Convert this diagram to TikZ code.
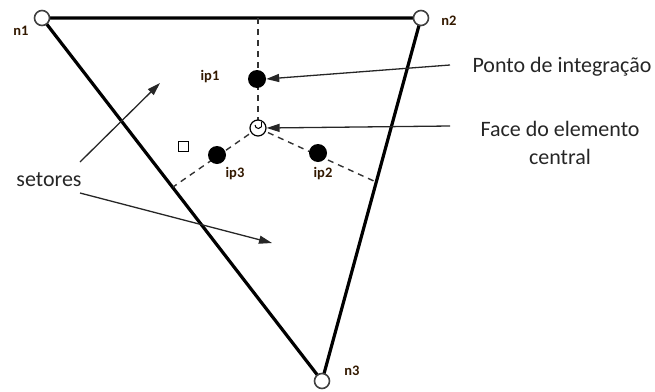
\documentclass[tikz,border=0pt]{standalone}
\usepackage{fontspec}
\setmainfont{Carlito}
\usetikzlibrary{arrows.meta,calc,intersections}
\begin{document}
\begin{tikzpicture}[x=1pt,y=-1pt,
  edge/.style={line width=3.2pt},
  dashl/.style={dash pattern=on 6pt off 5pt,line width=1.4pt,black!80},
  opennode/.style={circle,draw,line width=1.6pt,draw=black!75,fill=white,minimum size=15pt,inner sep=0pt},
  ipnode/.style={circle,fill=black,minimum size=18pt,inner sep=0pt},
  nlabel/.style={font=\bfseries\fontsize{14.5}{16}\selectfont,text=black!80!orange},
  txt/.style={font=\fontsize{22}{28}\selectfont,align=center,text=black!85},
  ptr/.style={line width=1.3pt,draw=black!85,-{Triangle[length=13pt,width=8pt]}}]
\useasboundingbox (0,0) rectangle (655,391);
% triangle
\coordinate (p1) at (42,18);
\coordinate (p2) at (421,18);
\coordinate (p3) at (322,381);
\draw[edge] (p1) -- (p2) -- (p3) -- cycle;
\node[opennode] (n1) at (p1) {};
\node[opennode] (n2) at (p2) {};
\node[opennode] (n3) at (p3) {};
\node[nlabel] (ln1) at (21,31) {n1};
\node[nlabel] (ln2) at (449,21) {n2};
\node[nlabel] (ln3) at (352,371) {n3};
% centre and dashed sectors
\coordinate (c) at (258,128);
\coordinate (top) at (258,18);
\coordinate (el) at (173,187);
\coordinate (er) at (376,182);
\draw[dashl] (top) -- (c);
\draw[dashl] (c) -- (el);
\draw[dashl] (c) -- (er);
\node[circle,draw,line width=1.2pt,fill=white,minimum size=16pt,inner sep=0pt] (cf) at (c) {};
\draw[line width=1pt] ($(c)+(-3,-3)$) arc[start angle=180,end angle=330,radius=3.5pt];
\draw[line width=1pt] ($(c)+(3,-1.5)$) -- ($(c)+(3,-6)$);
% integration points
\node[ipnode] (ip1) at (257,79) {};
\node[ipnode] (ip3) at (217,155) {};
\node[ipnode] (ip2) at (318,153) {};
\node[nlabel] (lip1) at (210,77) {ip1};
\node[nlabel] (lip3) at (235,174) {ip3};
\node[nlabel] (lip2) at (323,174) {ip2};
% small square
\node[draw,line width=1pt,minimum size=10pt,inner sep=0pt] (sq) at (183,146) {};
% labels
\node[txt] (pi) at (562,67) {Ponto de integração};
\node[txt] (fc) at (560,143) {Face do elemento\\central};
\node[txt] (set) at (49,180) {setores};
\coordinate (a1) at (450,65);
\coordinate (a2) at (450,126);
\draw[ptr] (a1) -- (ip1.east);
\draw[ptr] (a2) -- (cf.east);
\coordinate (s1) at (80,162);
\coordinate (s1e) at (160,83);
\coordinate (s2) at (80,193);
\coordinate (s2e) at (272,243);
\draw[ptr] (s1) -- (s1e);
\draw[ptr] (s2) -- (s2e);
\end{tikzpicture}
\end{document}
